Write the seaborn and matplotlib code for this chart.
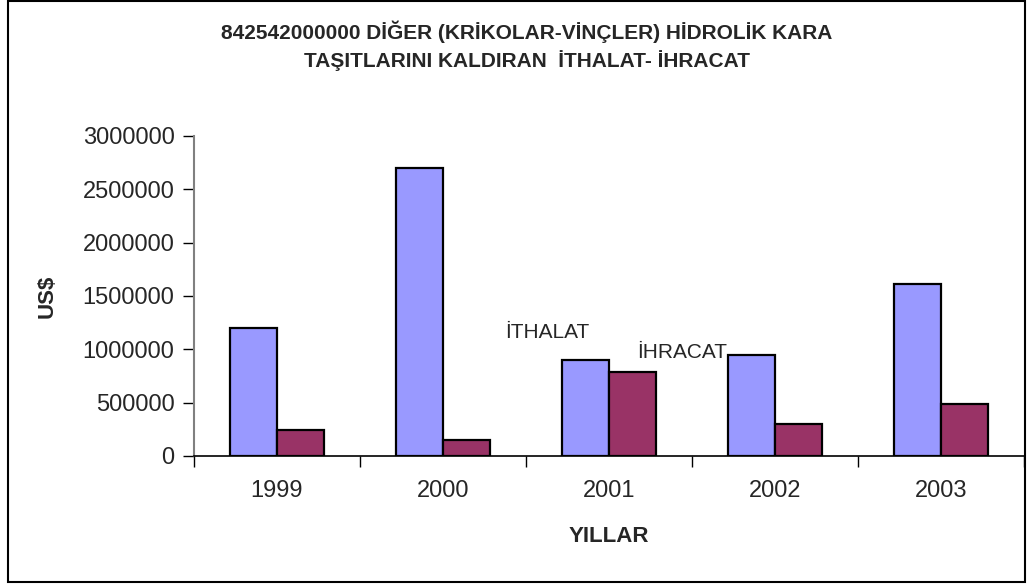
import matplotlib
matplotlib.use("Agg")
import matplotlib.pyplot as plt
import seaborn as sns
import pandas as pd
from matplotlib.patches import Rectangle
from matplotlib.ticker import FixedLocator, NullFormatter

years = ["1999", "2000", "2001", "2002", "2003"]
ithalat = [1200000, 2700000, 900000, 950000, 1610000]
ihracat = [240000, 147000, 785000, 297000, 485000]
series_names = ["İTHALAT", "İHRACAT"]
title_text = "842542000000 DİĞER (KRİKOLAR-VİNÇLER) HİDROLİK KARA\nTAŞITLARINI KALDIRAN  İTHALAT- İHRACAT"

df = pd.DataFrame({
    "year": years * 2,
    "value": ithalat + ihracat,
    "series": [series_names[0]] * len(years) + [series_names[1]] * len(years),
})

sns.set_theme(style="white")
plt.rcParams["font.family"] = ["Liberation Sans", "DejaVu Sans"]

W, H = 1033, 585
fig = plt.figure(figsize=(W / 100, H / 100), dpi=100)
ax = fig.add_axes([194 / W, 1 - 456 / H, (1024 - 194) / W, (456 - 136) / H])

sns.barplot(data=df, x="year", y="value", hue="series", ax=ax,
            palette=["#9999FF", "#993366"], width=0.57, gap=0,
            edgecolor="black", linewidth=1.6, saturation=1, legend=False)

ax.set_xlim(-0.5, len(years) - 0.5)
ax.set_ylim(0, 3000000)
ax.set_yticks(range(0, 3000001, 500000))
ax.set_yticklabels([str(v) for v in range(0, 3000001, 500000)], fontsize=17)
ax.tick_params(axis="y", direction="out", length=8, width=1, color="black", pad=6, left=True)
ax.tick_params(axis="x", which="major", length=0, pad=17, labelsize=17)
ax.xaxis.set_minor_locator(FixedLocator([i - 0.5 for i in range(len(years) + 1)]))
ax.xaxis.set_minor_formatter(NullFormatter())
ax.tick_params(axis="x", which="minor", direction="out", length=8, width=1, color="black", bottom=True)

for s in ["top", "right"]:
    ax.spines[s].set_visible(False)
ax.spines["left"].set_color("#808080")
ax.spines["left"].set_linewidth(1.5)
ax.spines["bottom"].set_color("black")
ax.spines["bottom"].set_linewidth(1.2)

ax.set_xlabel("")
ax.set_ylabel("")

# in-plot series labels
ax.text(1.373, 1106000, series_names[0], fontsize=15, ha="left", va="baseline")
ax.text(2.169, 919000, series_names[1], fontsize=15, ha="left", va="baseline")

fig.text(527 / W, 1 - 46 / H, title_text, ha="center", va="center",
         fontsize=15, fontweight="bold", linespacing=1.4)
fig.text(609 / W, 1 - 537 / H, "YILLAR", ha="center", va="center",
         fontsize=16, fontweight="bold")
fig.text(47 / W, 1 - 296 / H, "US$", ha="center", va="center",
         fontsize=16, fontweight="bold", rotation=90)

fig.patches.append(Rectangle((8 / W, 1 - 582 / H), (1025 - 8) / W, (582 - 1) / H,
                             transform=fig.transFigure, fill=False,
                             edgecolor="black", linewidth=1.5))

fig.savefig("out.png", dpi=100)
